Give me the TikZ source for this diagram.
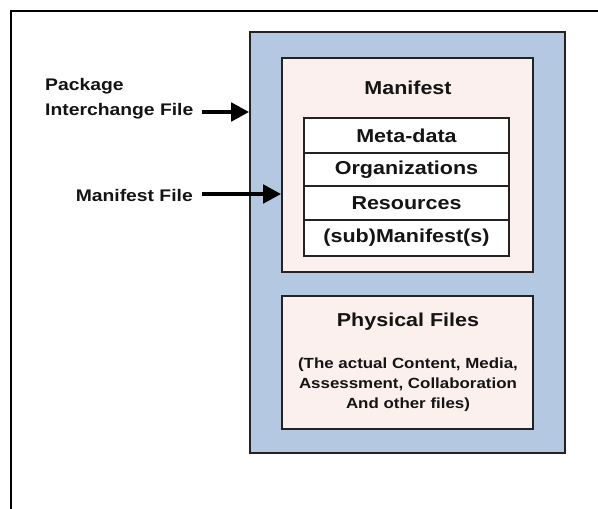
\documentclass[tikz,border=0pt]{standalone}
\usepackage{fontspec}
\setmainfont{Liberation Sans}[FakeStretch=1.15]
\usetikzlibrary{arrows.meta}
\definecolor{pifblue}{RGB}{180,200,226}
\definecolor{mancream}{RGB}{251,240,237}
\definecolor{txt}{RGB}{20,20,20}
\definecolor{edge}{RGB}{35,35,35}
\tikzset{
  box/.style={draw=edge, line width=1.6pt, rectangle, inner sep=0pt},
  row/.style={draw=edge, line width=1.2pt, fill=white, rectangle, inner sep=0pt,
    minimum width=205pt, font=\bfseries\fontsize{18.7}{20}\selectfont, text=txt},
  title/.style={font=\bfseries\fontsize{18.7}{20}\selectfont, text=txt},
  lbl/.style={font=\bfseries\fontsize{16.8}{25}\selectfont, text=txt, align=left, inner sep=0pt},
  para/.style={font=\bfseries\fontsize{14.7}{20}\selectfont, text=txt, align=center, inner sep=0pt},
  bigarrow/.style={line width=4.5pt, -{Triangle[length=18pt,width=18pt]}, draw=black}
}
\begin{document}
\begin{tikzpicture}[x=1pt,y=-1pt]
\useasboundingbox (0,0) rectangle (598,509);
\fill[white] (0,0) rectangle (598,509);
% outer frame (left and top only)
\draw[line width=2pt, black] (11,509) -- (11,11) -- (598,11);
% package interchange file box
\node[box, fill=pifblue, minimum width=315pt, minimum height=421pt] (pif) at (407.5,242.5) {};
% manifest box
\node[box, fill=mancream, minimum width=251pt, minimum height=214pt] (man) at (407.5,165) {};
\node[title] (mantitle) at (408,88) {Manifest};
% table rows
\node[row, minimum height=35pt] (meta) at (406.5,135.5) {Meta-data};
\node[row, minimum height=33pt] (org) at (406.5,169.5) {Organizations};
\node[row, minimum height=34pt] (res) at (406.5,203) {Resources};
\node[row, minimum height=36pt] (sub) at (406.5,238) {(sub)Manifest(s)};
% physical files box
\node[box, fill=mancream, minimum width=251pt, minimum height=133pt] (phys) at (407.5,362.5) {};
\node[title] (phystitle) at (408,322) {Physical Files};
\node[para] (physpara) at (408,385) {(The actual Content, Media,\\Assessment, Collaboration\\And other files)};
% left labels
\node[lbl, anchor=north west] (pkglbl) at (45,78) {Package\\Interchange File};
\node[lbl, anchor=east] (mflbl) at (193,195) {Manifest File};
% arrows
\coordinate (a1s) at (202,112);
\coordinate (a2s) at (202,194);
\draw[bigarrow] (a1s) -- (a1s -| pif.west);
\draw[bigarrow] (a2s) -- (a2s -| man.west);
\end{tikzpicture}
\end{document}
